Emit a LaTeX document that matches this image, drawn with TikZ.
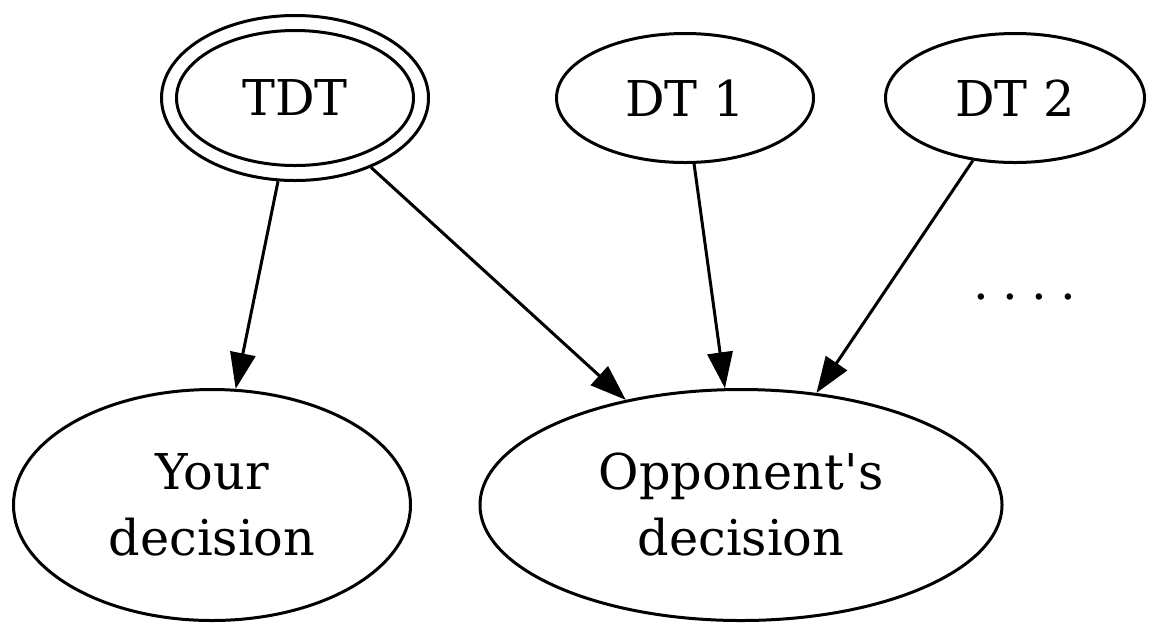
\documentclass[tikz,border=0pt]{standalone}
\usepackage{fontspec}
\setmainfont{DejaVu Serif}
\newcommand{\straightquote}{\XeTeXglyph\XeTeXglyphindex "quotesingle"\relax}
\usetikzlibrary{arrows.meta,shapes.geometric}
\begin{document}
\begin{tikzpicture}[x=0.75pt,y=-0.75pt,
  every node/.style={font=\fontsize{37}{49.5}\selectfont},
  ell/.style={ellipse,draw=black,line width=2.25pt,inner sep=0pt,align=center},
  edge/.style={line width=2.25pt,-{Triangle[length=27pt,width=19pt]}}]
\useasboundingbox (0,0) rectangle (1162,637);
\node[ell,minimum width=177.75pt,minimum height=101.25pt] (tdtin) at (295,98) {TDT};
\node[ell,minimum width=200.25pt,minimum height=123.75pt] (tdt) at (295,98) {};
\node[ell,minimum width=192.75pt,minimum height=96.75pt] (dt1) at (685,98) {DT 1};
\node[ell,minimum width=194.25pt,minimum height=96.75pt] (dt2) at (1015,98) {DT 2};
\node[ell,minimum width=297.75pt,minimum height=173.25pt] (your) at (212,505) {Your\\decision};
\node[ell,minimum width=391.5pt,minimum height=173.25pt] (opp) at (741,505) {Opponent\straightquote s\\decision};
\node (dots) at (1025,297) {.\hspace{10pt}.\hspace{10pt}.\hspace{10pt}.};
\draw[edge] (tdt) -- (your);
\draw[edge] (tdt) -- (opp);
\draw[edge] (dt1) -- (opp);
\draw[edge] (dt2) -- (opp);
\end{tikzpicture}
\end{document}
